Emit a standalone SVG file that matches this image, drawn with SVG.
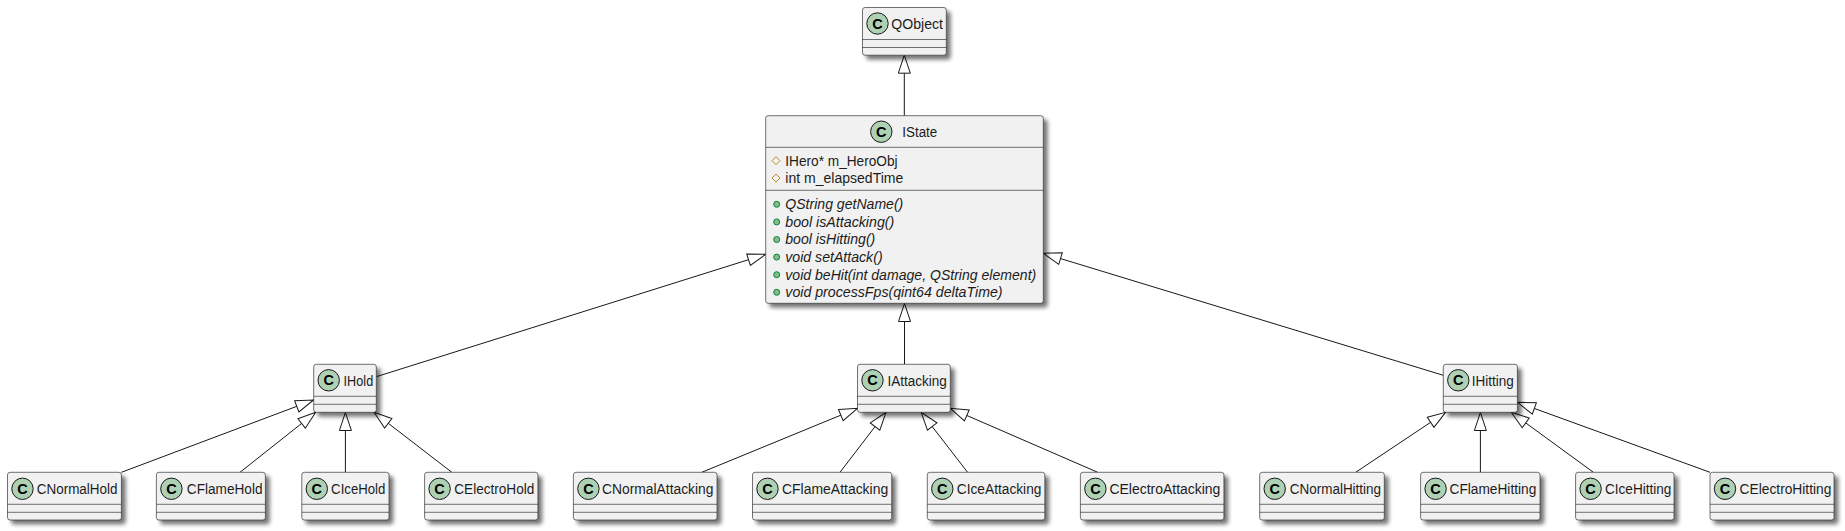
<svg xmlns="http://www.w3.org/2000/svg" width="1845" height="531" viewBox="0 0 1845 531">
<defs>
<filter id="sh" x="-20%" y="-20%" width="150%" height="150%"><feGaussianBlur in="SourceAlpha" stdDeviation="2"/><feOffset dx="4" dy="4"/><feComponentTransfer><feFuncA type="linear" slope="0.55"/></feComponentTransfer><feMerge><feMergeNode/><feMergeNode in="SourceGraphic"/></feMerge></filter>
<marker id="tri" markerUnits="userSpaceOnUse" markerWidth="22" markerHeight="16" viewBox="-1 -8 22 16" refX="18" refY="0" orient="auto"><path d="M0,-6 L18,0 L0,6 Z" fill="#fff" stroke="#181818" stroke-width="1"/></marker>
</defs>
<style>
rect.b{fill:#F1F1F1;stroke:#181818;stroke-width:.6;filter:url(#sh)}
.s{stroke:#181818;stroke-width:.6}
.ci{fill:#ADD1B2;stroke:#181818;stroke-width:1}
text{font-family:"Liberation Sans",Arial,sans-serif;font-size:14px;fill:#1c1c1c}
.g{font-weight:bold;font-size:14.5px;text-anchor:middle;fill:#000}
.i{font-style:italic}
.con path{fill:none;stroke:#181818;stroke-width:1;marker-end:url(#tri)}
.pr{fill:none;stroke:#B38D22;stroke-width:1}
.pu{fill:#84BE84;stroke:#038048;stroke-width:1}
</style>
<g id="connectors" class="con">
<path d="M904.3,115.7 L904.3,55.2"/>
<path d="M376.3,376.7 L765.7,254.3"/>
<path d="M904.5,364.3 L904.5,303.5"/>
<path d="M1443.3,375.3 L1043.3,253.3"/>
<path d="M121.4,472.3 L313.6,400"/>
<path d="M240,472.3 L315.7,412.3"/>
<path d="M345.4,472.3 L345.4,412.5"/>
<path d="M451.8,472.3 L374,412.3"/>
<path d="M701.8,472.3 L857.5,408.3"/>
<path d="M840,472.3 L886,412.3"/>
<path d="M967.6,472.3 L921.2,412.3"/>
<path d="M1097.7,472.3 L950.3,408.3"/>
<path d="M1355.7,472.3 L1445.6,412.3"/>
<path d="M1480.4,472.3 L1480.4,412.5"/>
<path d="M1593.4,472.3 L1511.2,412.3"/>
<path d="M1710,472.3 L1517.4,402.3"/>
</g>
<g id="QObject" transform="translate(862.5,7.5)"><rect class="b" width="83.8" height="47.7" rx="2.5"/><circle class="ci" cx="15" cy="16" r="10.7"/><text class="g" x="15" y="21">C</text><text x="28.8" y="21.5" textLength="51.7" lengthAdjust="spacingAndGlyphs">QObject</text><line class="s" x1="0" x2="83.8" y1="32" y2="32"/><line class="s" x1="0" x2="83.8" y1="40" y2="40"/></g>
<g id="IState" transform="translate(765.7,115.7)"><rect class="b" width="277.6" height="187.6" rx="2.5"/><circle class="ci" cx="115.6" cy="16" r="10.7"/><text class="g" x="115.6" y="21">C</text><text x="136.6" y="21.5" textLength="35" lengthAdjust="spacingAndGlyphs">IState</text><line class="s" x1="0" x2="277.6" y1="31.6" y2="31.6"/><line class="s" x1="0" x2="277.6" y1="74.6" y2="74.6"/>
<path class="pr" d="M10.3,41 l4,4 l-4,4 l-4,-4 Z"/><text x="19.6" y="50.3" textLength="112.3" lengthAdjust="spacingAndGlyphs">IHero* m_HeroObj</text>
<path class="pr" d="M10.3,58.3 l4,4 l-4,4 l-4,-4 Z"/><text x="19.6" y="67.6" textLength="118" lengthAdjust="spacingAndGlyphs">int m_elapsedTime</text>
<circle class="pu" cx="11" cy="88.6" r="3"/><text class="i" x="19.6" y="93.6" textLength="118" lengthAdjust="spacingAndGlyphs">QString getName()</text>
<circle class="pu" cx="11" cy="106.2" r="3"/><text class="i" x="19.6" y="111.2" textLength="109" lengthAdjust="spacingAndGlyphs">bool isAttacking()</text>
<circle class="pu" cx="11" cy="123.8" r="3"/><text class="i" x="19.6" y="128.8" textLength="90" lengthAdjust="spacingAndGlyphs">bool isHitting()</text>
<circle class="pu" cx="11" cy="141.4" r="3"/><text class="i" x="19.6" y="146.4" textLength="97.3" lengthAdjust="spacingAndGlyphs">void setAttack()</text>
<circle class="pu" cx="11" cy="159" r="3"/><text class="i" x="19.6" y="164" textLength="251" lengthAdjust="spacingAndGlyphs">void beHit(int damage, QString element)</text>
<circle class="pu" cx="11" cy="176.6" r="3"/><text class="i" x="19.6" y="181.6" textLength="217.3" lengthAdjust="spacingAndGlyphs">void processFps(qint64 deltaTime)</text></g>
<g id="IHold" transform="translate(313.7,364.3)"><rect class="b" width="62.6" height="48" rx="2.5"/><circle class="ci" cx="15" cy="16" r="10.7"/><text class="g" x="15" y="21">C</text><text x="29.9" y="21.5" textLength="29.6" lengthAdjust="spacingAndGlyphs">IHold</text><line class="s" x1="0" x2="62.6" y1="32" y2="32"/><line class="s" x1="0" x2="62.6" y1="40" y2="40"/></g>
<g id="IAttacking" transform="translate(857.5,364.3)"><rect class="b" width="92.8" height="48" rx="2.5"/><circle class="ci" cx="15" cy="16" r="10.7"/><text class="g" x="15" y="21">C</text><text x="29.9" y="21.5" textLength="59.4" lengthAdjust="spacingAndGlyphs">IAttacking</text><line class="s" x1="0" x2="92.8" y1="32" y2="32"/><line class="s" x1="0" x2="92.8" y1="40" y2="40"/></g>
<g id="IHitting" transform="translate(1443.3,364.3)"><rect class="b" width="74.1" height="48" rx="2.5"/><circle class="ci" cx="15" cy="16" r="10.7"/><text class="g" x="15" y="21">C</text><text x="28.4" y="21.5" textLength="42" lengthAdjust="spacingAndGlyphs">IHitting</text><line class="s" x1="0" x2="74.1" y1="32" y2="32"/><line class="s" x1="0" x2="74.1" y1="40" y2="40"/></g>
<g id="CNormalHold" transform="translate(7.5,472.3)"><rect class="b" width="113.9" height="47.7" rx="2.5"/><circle class="ci" cx="15" cy="16.5" r="10.7"/><text class="g" x="15" y="21.5">C</text><text x="29.3" y="22" textLength="80.7" lengthAdjust="spacingAndGlyphs">CNormalHold</text><line class="s" x1="0" x2="113.9" y1="32" y2="32"/><line class="s" x1="0" x2="113.9" y1="40" y2="40"/></g>
<g id="CFlameHold" transform="translate(156.4,472.3)"><rect class="b" width="109" height="47.7" rx="2.5"/><circle class="ci" cx="15" cy="16.5" r="10.7"/><text class="g" x="15" y="21.5">C</text><text x="30.4" y="22" textLength="75.7" lengthAdjust="spacingAndGlyphs">CFlameHold</text><line class="s" x1="0" x2="109" y1="32" y2="32"/><line class="s" x1="0" x2="109" y1="40" y2="40"/></g>
<g id="CIceHold" transform="translate(301.8,472.3)"><rect class="b" width="87.2" height="47.7" rx="2.5"/><circle class="ci" cx="15" cy="16.5" r="10.7"/><text class="g" x="15" y="21.5">C</text><text x="29.3" y="22" textLength="54.3" lengthAdjust="spacingAndGlyphs">CIceHold</text><line class="s" x1="0" x2="87.2" y1="32" y2="32"/><line class="s" x1="0" x2="87.2" y1="40" y2="40"/></g>
<g id="CElectroHold" transform="translate(424.6,472.3)"><rect class="b" width="113.3" height="47.7" rx="2.5"/><circle class="ci" cx="15" cy="16.5" r="10.7"/><text class="g" x="15" y="21.5">C</text><text x="29.7" y="22" textLength="80" lengthAdjust="spacingAndGlyphs">CElectroHold</text><line class="s" x1="0" x2="113.3" y1="32" y2="32"/><line class="s" x1="0" x2="113.3" y1="40" y2="40"/></g>
<g id="CNormalAttacking" transform="translate(573.4,472.3)"><rect class="b" width="143.6" height="47.7" rx="2.5"/><circle class="ci" cx="15" cy="16.5" r="10.7"/><text class="g" x="15" y="21.5">C</text><text x="28.7" y="22" textLength="111.4" lengthAdjust="spacingAndGlyphs">CNormalAttacking</text><line class="s" x1="0" x2="143.6" y1="32" y2="32"/><line class="s" x1="0" x2="143.6" y1="40" y2="40"/></g>
<g id="CFlameAttacking" transform="translate(752.5,472.3)"><rect class="b" width="139.2" height="47.7" rx="2.5"/><circle class="ci" cx="15" cy="16.5" r="10.7"/><text class="g" x="15" y="21.5">C</text><text x="29.5" y="22" textLength="106.2" lengthAdjust="spacingAndGlyphs">CFlameAttacking</text><line class="s" x1="0" x2="139.2" y1="32" y2="32"/><line class="s" x1="0" x2="139.2" y1="40" y2="40"/></g>
<g id="CIceAttacking" transform="translate(927.3,472.3)"><rect class="b" width="117.5" height="47.7" rx="2.5"/><circle class="ci" cx="15" cy="16.5" r="10.7"/><text class="g" x="15" y="21.5">C</text><text x="29.5" y="22" textLength="84.6" lengthAdjust="spacingAndGlyphs">CIceAttacking</text><line class="s" x1="0" x2="117.5" y1="32" y2="32"/><line class="s" x1="0" x2="117.5" y1="40" y2="40"/></g>
<g id="CElectroAttacking" transform="translate(1080.4,472.3)"><rect class="b" width="143.5" height="47.7" rx="2.5"/><circle class="ci" cx="15" cy="16.5" r="10.7"/><text class="g" x="15" y="21.5">C</text><text x="29" y="22" textLength="111" lengthAdjust="spacingAndGlyphs">CElectroAttacking</text><line class="s" x1="0" x2="143.5" y1="32" y2="32"/><line class="s" x1="0" x2="143.5" y1="40" y2="40"/></g>
<g id="CNormalHitting" transform="translate(1259.7,472.3)"><rect class="b" width="124.6" height="47.7" rx="2.5"/><circle class="ci" cx="15" cy="16.5" r="10.7"/><text class="g" x="15" y="21.5">C</text><text x="30" y="22" textLength="91.4" lengthAdjust="spacingAndGlyphs">CNormalHitting</text><line class="s" x1="0" x2="124.6" y1="32" y2="32"/><line class="s" x1="0" x2="124.6" y1="40" y2="40"/></g>
<g id="CFlameHitting" transform="translate(1420.6,472.3)"><rect class="b" width="119.4" height="47.7" rx="2.5"/><circle class="ci" cx="15" cy="16.5" r="10.7"/><text class="g" x="15" y="21.5">C</text><text x="28.9" y="22" textLength="86.8" lengthAdjust="spacingAndGlyphs">CFlameHitting</text><line class="s" x1="0" x2="119.4" y1="32" y2="32"/><line class="s" x1="0" x2="119.4" y1="40" y2="40"/></g>
<g id="CIceHitting" transform="translate(1575.6,472.3)"><rect class="b" width="98.4" height="47.7" rx="2.5"/><circle class="ci" cx="15" cy="16.5" r="10.7"/><text class="g" x="15" y="21.5">C</text><text x="29.4" y="22" textLength="66.4" lengthAdjust="spacingAndGlyphs">CIceHitting</text><line class="s" x1="0" x2="98.4" y1="32" y2="32"/><line class="s" x1="0" x2="98.4" y1="40" y2="40"/></g>
<g id="CElectroHitting" transform="translate(1710,472.3)"><rect class="b" width="124" height="47.7" rx="2.5"/><circle class="ci" cx="15" cy="16.5" r="10.7"/><text class="g" x="15" y="21.5">C</text><text x="29.6" y="22" textLength="91.8" lengthAdjust="spacingAndGlyphs">CElectroHitting</text><line class="s" x1="0" x2="124" y1="32" y2="32"/><line class="s" x1="0" x2="124" y1="40" y2="40"/></g>
</svg>
